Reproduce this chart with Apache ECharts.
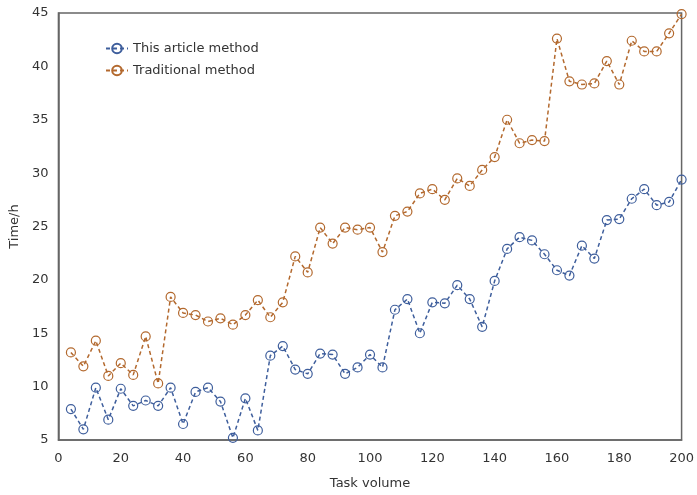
<!DOCTYPE html>
<html>
<head>
<meta charset="utf-8">
<script src="https://cdn.jsdelivr.net/npm/echarts@6/dist/echarts.min.js"></script>
<style>html,body{margin:0;padding:0;background:#fff}#c{width:697px;height:495px}</style>
</head>
<body>
<div id="c"></div>
<script>
var taskVolume = [4,8,12,16,20,24,28,32,36,40,44,48,52,56,60,64,68,72,76,80,84,88,92,96,100,104,108,112,116,120,124,128,132,136,140,144,148,152,156,160,164,168,172,176,180,184,188,192,196,200];
var thisArticle = [7.9,6.0,9.9,6.9,9.8,8.2,8.7,8.2,9.9,6.5,9.5,9.9,8.6,5.2,8.9,5.9,12.9,13.8,11.6,11.2,13.1,13.0,11.2,11.8,13.0,11.8,17.2,18.2,15.0,17.9,17.8,19.5,18.2,15.6,19.9,22.9,24.0,23.7,22.4,20.9,20.4,23.2,22.0,25.6,25.7,27.6,28.5,27.0,27.3,29.4];
var traditional = [13.2,11.9,14.3,11.0,12.2,11.1,14.7,10.3,18.4,16.9,16.7,16.1,16.4,15.8,16.7,18.1,16.5,17.9,22.2,20.7,24.9,23.4,24.9,24.7,24.9,22.6,26.0,26.4,28.1,28.5,27.5,29.5,28.8,30.3,31.5,35.0,32.8,33.1,33.0,42.6,38.6,38.3,38.4,40.5,38.3,42.4,41.4,41.4,43.1,44.9];
var seriesNames = ['This article method','Traditional method'];
var xTicks = {min:0, max:200, interval:20};
var yTicks = {min:5, max:45, interval:5};

function pairs(xs, ys){ return xs.map(function(x,i){ return [x, ys[i]]; }); }
var font = 'DejaVu Sans, Verdana, sans-serif';
var blue = '#3e5e9c', orange = '#b3692e';
function mk(name, data, color){
  return {
    name: name, type: 'line', data: data,
    symbol: 'circle', symbolSize: 9,
    lineStyle: {color: color, width: 1.5, type: [4,3]},
    itemStyle: {color: 'rgba(255,255,255,0)', borderColor: color, borderWidth: 1.2},
    emphasis: {disabled: true}, animation: false
  };
}
var chart = echarts.init(document.getElementById('c'), null, {renderer:'canvas'});
chart.setOption({
  animation: false,
  grid: {left:58, top:13, right:12, bottom:52, show:true, borderColor:'#666', borderWidth:1.5},
  legend: {
    left: 100, top: 37, orient: 'vertical', itemGap: 9, itemWidth: 22, itemHeight: 12,
    textStyle: {fontFamily: font, fontSize: 13, color: '#333'},
    data: seriesNames
  },
  xAxis: {
    type:'value', min:xTicks.min, max:xTicks.max, interval:xTicks.interval,
    name:'Task volume', nameLocation:'middle', nameGap:37,
    nameTextStyle:{fontFamily:font, fontSize:13, color:'#333'},
    axisLine:{show:true, lineStyle:{color:'#666', width:1.5}},
    axisTick:{show:false}, splitLine:{show:false},
    axisLabel:{fontFamily:font, fontSize:13, color:'#333', margin:12}
  },
  yAxis: {
    type:'value', min:yTicks.min, max:yTicks.max, interval:yTicks.interval,
    name:'Time/h', nameLocation:'middle', nameGap:32,
    nameTextStyle:{fontFamily:font, fontSize:13, color:'#333'},
    axisLine:{show:true, lineStyle:{color:'#666', width:1.5}},
    axisTick:{show:false}, splitLine:{show:false},
    axisLabel:{fontFamily:font, fontSize:13, color:'#333', margin:10}
  },
  series: [
    mk(seriesNames[0], pairs(taskVolume, thisArticle), blue),
    mk(seriesNames[1], pairs(taskVolume, traditional), orange)
  ]
});
</script>
</body>
</html>
